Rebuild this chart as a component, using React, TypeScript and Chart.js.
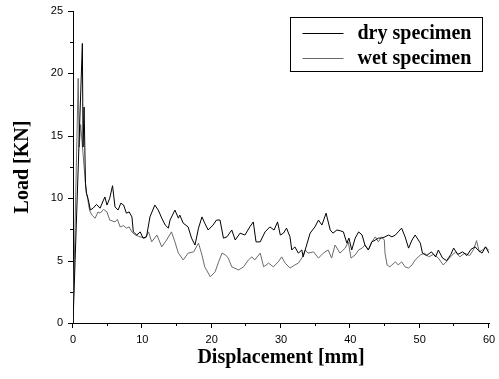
import React, { useEffect, useRef } from "react";
import { Chart, registerables } from "chart.js";

Chart.register(...registerables);

const seriesLabels = ["dry specimen", "wet specimen"];
const seriesColors = ["#000000", "#6a6a6a"];

const dryDisp = [
  0, 1.35, 1.45, 1.6, 1.8, 1.95, 2.2, 2.5, 2.9, 3.4, 3.9, 4.4, 4.6, 4.9, 5.3, 5.7, 6.06, 6.5, 6.9, 7.3,
  7.7, 8.1, 8.5, 8.7, 9.2, 9.7, 10.1, 10.6, 11.1, 11.8, 12.3, 12.8, 13.3, 13.75, 14.0, 14.7, 15.2, 15.4,
  15.9, 16.6, 17.1, 17.6, 18.1, 18.6, 19.0, 19.5, 20.2, 20.7, 21.2, 21.7, 22.2, 22.9, 23.4, 24.1, 24.8,
  25.5, 26.0, 26.4, 27.0, 27.7, 28.4, 29.0, 29.5, 29.9, 30.35, 30.8, 31.3, 31.55, 32.0, 32.5, 33.0, 33.2,
  33.7, 34.2, 34.9, 35.4, 35.9, 36.5, 37.1, 37.5, 38.05, 38.5, 39.0, 39.5, 39.8, 40.2, 40.7, 41.2, 41.7,
  42.1, 42.6, 43.1, 43.6, 44.05, 44.5, 45.0, 45.5, 46.0, 46.5, 46.9, 47.4, 47.9, 48.4, 48.9, 49.35, 50.1,
  50.4, 51.0, 51.7, 52.3, 52.7, 53.3, 53.9, 54.5, 54.9, 55.5, 56.2, 56.8, 57.4, 58.0, 58.5, 59.0, 59.5, 60,
];
const dryLoad = [
  0, 22.4, 14.1, 17.3, 11.2, 10.4, 9.9, 9.05, 9.2, 9.5, 9.2, 9.85, 10.1, 9.45, 10.0, 11.0, 9.3, 9.05, 9.6, 9.45,
  8.8, 8.9, 8.5, 7.3, 7.05, 7.3, 6.8, 6.9, 8.5, 9.45, 9.05, 8.4, 7.85, 7.6, 8.25, 9.05, 8.4, 8.65,
  8.0, 7.7, 6.8, 6.25, 7.6, 8.5, 8.0, 7.45, 7.85, 8.25, 8.25, 6.8, 6.9, 7.45, 6.65, 7.2, 7.05,
  7.7, 8.1, 6.5, 6.5, 7.3, 7.7, 7.45, 8.1, 7.05, 7.2, 7.6, 6.9, 5.85, 6.1, 5.6, 5.85, 5.3,
  6.25, 7.2, 7.7, 8.25, 7.85, 8.8, 7.45, 7.2, 7.45, 7.4, 7.3, 6.4, 6.8, 5.85, 6.8, 7.3, 7.05,
  6.25, 5.85, 6.5, 6.65, 6.8, 6.8, 6.9, 7.05, 6.9, 7.05, 7.3, 7.6, 6.9, 6.0, 6.65, 7.05, 6.4,
  5.6, 5.4, 5.7, 5.3, 5.85, 5.2, 5.0, 5.5, 6.0, 5.5, 5.7, 5.4, 5.9, 6.1, 5.8, 5.6, 6.1, 5.6,
];

const wetDisp = [
  0, 0.75, 0.9, 1.1, 1.9, 2.1, 2.4, 2.8, 3.2, 3.6, 3.9, 4.4, 4.9, 5.3, 6.06, 6.4, 6.8, 7.3, 7.7, 8.1,
  8.5, 9.0, 9.7, 10.4, 10.9, 11.35, 12.1, 12.8, 13.5, 14.2, 14.7, 15.2, 15.4, 15.9, 16.6, 17.4, 18.1,
  18.6, 19.0, 19.8, 20.5, 21.0, 21.5, 22.0, 22.4, 22.9, 23.9, 24.6, 25.3, 25.8, 26.2, 27.0, 27.5, 28.2,
  28.9, 29.6, 30.1, 30.6, 31.3, 32.0, 32.5, 33.0, 33.5, 33.9, 34.7, 35.4, 36.1, 36.8, 37.3, 37.8, 38.5,
  39.25, 39.7, 40.1, 40.7, 41.2, 41.7, 42.1, 42.6, 43.1, 43.6, 44.05, 44.5, 44.9, 45.0, 45.3, 45.7, 46.5,
  46.9, 47.4, 47.9, 48.4, 48.9, 49.35, 50.1, 50.7, 51.3, 52.0, 52.7, 53.4, 54.0, 54.6, 55.2, 55.8, 56.5,
  57.2, 57.8, 58.2, 58.6, 59.2, 59.5, 60,
];
const wetLoad = [
  0, 19.6, 14.1, 15.9, 10.5, 10.0, 9.0, 8.6, 8.4, 8.9, 8.8, 9.1, 8.9, 8.25, 8.1, 8.3, 7.7, 7.8, 7.6, 7.7,
  7.3, 7.05, 6.9, 6.8, 7.3, 6.5, 7.05, 6.1, 6.65, 7.3, 6.5, 5.6, 5.45, 5.05, 5.6, 5.7, 6.4,
  5.45, 4.5, 3.7, 4.1, 4.9, 5.6, 5.45, 5.2, 4.5, 4.25, 4.5, 5.05, 5.3, 5.05, 5.6, 4.5, 4.8,
  4.5, 4.9, 5.3, 4.8, 4.4, 4.65, 4.8, 5.2, 5.85, 5.6, 5.7, 5.2, 5.6, 5.85, 5.2, 6.25, 5.6,
  6.0, 6.5, 5.2, 5.45, 5.85, 6.0, 6.25, 5.85, 6.5, 6.9, 6.5, 6.9, 6.65, 5.6, 4.65, 4.5, 4.9,
  4.65, 4.9, 4.5, 4.4, 4.65, 5.05, 5.45, 5.6, 5.3, 5.5, 5.2, 4.65, 5.0, 5.4, 5.7, 5.3, 5.6,
  5.4, 5.9, 6.6, 5.7, 5.9, 6.1, 5.8,
];

const xMajorStep = 10;
const xMinorStep = 5;
const yMajorStep = 5;
const yMinorStep = 2.5;

const toPoints = (xs: number[], ys: number[]) => xs.map((x, i) => ({ x, y: ys[i] }));

const axisTicksPlugin = {
  id: "axisTicks",
  afterDraw(chart: any) {
    const ctx = chart.ctx;
    const xs = chart.scales.x;
    const ys = chart.scales.y;
    ctx.save();
    ctx.strokeStyle = "#000";
    ctx.lineWidth = 1;
    const n1 = Math.round((xs.max - xs.min) / xMinorStep);
    for (let i = 0; i <= n1; i++) {
      const v = xs.min + i * xMinorStep;
      const px = Math.round(xs.getPixelForValue(v)) - 0.5;
      const major = Math.abs(v % xMajorStep) < 1e-9;
      const len = major ? 5 : 3;
      ctx.beginPath();
      ctx.moveTo(px, xs.top);
      ctx.lineTo(px, xs.top + len);
      ctx.stroke();
    }
    const n2 = Math.round((ys.max - ys.min) / yMinorStep);
    for (let i = 0; i <= n2; i++) {
      const v = ys.min + i * yMinorStep;
      const py = Math.round(ys.getPixelForValue(v)) + 0.5;
      const major = Math.abs(v % yMajorStep) < 1e-9;
      const len = major ? 5 : 3;
      ctx.beginPath();
      ctx.moveTo(ys.right, py);
      ctx.lineTo(ys.right - len, py);
      ctx.stroke();
    }
    ctx.restore();
  },
};

const legendBoxPlugin = {
  id: "legendBox",
  afterDraw(chart: any) {
    const ctx = chart.ctx;
    const area = chart.chartArea;
    const w = 192;
    const h = 54;
    const x0 = Math.round(area.right - 7 - w) + 0.5;
    const y0 = Math.round(area.top + 6) + 0.5;
    ctx.save();
    ctx.strokeStyle = "#000";
    ctx.lineWidth = 1;
    ctx.strokeRect(x0, y0, w, h);
    ctx.font = "bold 20px 'Liberation Serif', 'Times New Roman', serif";
    ctx.textBaseline = "middle";
    ctx.fillStyle = "#000";
    chart.data.datasets.forEach((ds: any, i: number) => {
      const cy = Math.round(y0 + 15 + i * 25) + 0.5;
      ctx.strokeStyle = ds.borderColor;
      ctx.beginPath();
      ctx.moveTo(x0 + 12, cy);
      ctx.lineTo(x0 + 53, cy);
      ctx.stroke();
      ctx.fillText(ds.label, x0 + 67, cy);
    });
    ctx.restore();
  },
};

export default function App() {
  const ref = useRef<HTMLCanvasElement>(null);

  useEffect(() => {
    if (!ref.current) return;
    const chart = new Chart(ref.current, {
      type: "line",
      data: {
        datasets: [
          {
            label: seriesLabels[0],
            data: toPoints(dryDisp, dryLoad),
            borderColor: seriesColors[0],
            borderWidth: 1,
            pointRadius: 0,
            tension: 0,
            fill: false,
          },
          {
            label: seriesLabels[1],
            data: toPoints(wetDisp, wetLoad),
            borderColor: seriesColors[1],
            borderWidth: 1,
            pointRadius: 0,
            tension: 0,
            fill: false,
          },
        ],
      },
      options: {
        responsive: false,
        animation: false,
        layout: { padding: { left: 0, right: 10, top: 11, bottom: 0 } },
        plugins: {
          legend: { display: false },
          tooltip: { enabled: false },
        },
        scales: {
          x: {
            type: "linear",
            min: 0,
            max: 60,
            grid: { display: false, drawTicks: false },
            border: { display: true, color: "#000", width: 1 },
            ticks: {
              stepSize: xMajorStep,
              padding: 10,
              color: "#000",
              font: { family: "'Liberation Sans', Arial, sans-serif", size: 11 },
              maxRotation: 0,
              autoSkip: false,
            },
            title: {
              display: true,
              text: "Displacement [mm]",
              color: "#000",
              font: { family: "'Liberation Serif', 'Times New Roman', serif", size: 20, weight: "bold" },
              padding: { top: 0, bottom: 9 },
            },
            afterFit: (scale: any) => {
              scale.height = 56;
              scale.paddingLeft = 0;
              scale.paddingRight = 0;
            },
          },
          y: {
            type: "linear",
            min: 0,
            max: 25,
            grid: { display: false, drawTicks: false },
            border: { display: true, color: "#000", width: 1 },
            ticks: {
              stepSize: yMajorStep,
              padding: 10,
              color: "#000",
              font: { family: "'Liberation Sans', Arial, sans-serif", size: 11 },
            },
            title: {
              display: true,
              text: "Load [KN]",
              color: "#000",
              font: { family: "'Liberation Serif', 'Times New Roman', serif", size: 20, weight: "bold" },
              padding: { top: 11, bottom: 0 },
            },
            afterFit: (scale: any) => {
              scale.width = 73;
              scale.paddingTop = 0;
              scale.paddingBottom = 0;
            },
          },
        },
      } as any,
      plugins: [axisTicksPlugin, legendBoxPlugin],
    });
    return () => chart.destroy();
  }, []);

  return (
    <div style={{ position: "absolute", left: 0, top: 0, width: 499, height: 379, background: "#fff" }}>
      <canvas ref={ref} width={499} height={379} />
    </div>
  );
}
